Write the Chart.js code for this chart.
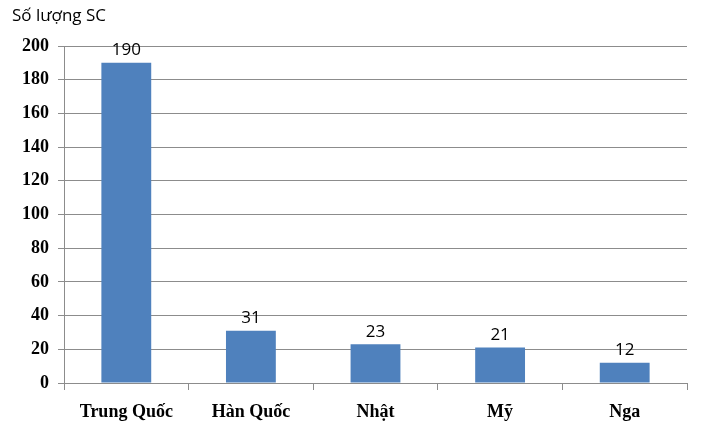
<!DOCTYPE html>
<html lang="vi">
<head>
<meta charset="UTF-8">
<title>Số lượng SC</title>
<script src="https://cdn.jsdelivr.net/npm/chart.js"></script>
<style>
  html, body { margin: 0; padding: 0; background: #fff; }
  #wrap { width: 705px; height: 430px; position: relative; }
</style>
</head>
<body>
<div id="wrap"><canvas id="chart"></canvas></div>
<script>
const categories = ['Trung Quốc', 'Hàn Quốc', 'Nhật', 'Mỹ', 'Nga'];
const counts = [190, 31, 23, 21, 12];
const yTicks = [0, 20, 40, 60, 80, 100, 120, 140, 160, 180, 200];

const gridColor = '#8c8c8c';
const barColor = '#4f81bd';

// value labels above each bar + axis title in the corner
const labelsPlugin = {
  id: 'labels',
  afterDatasetsDraw(chart) {
    const ctx = chart.ctx;
    const meta = chart.getDatasetMeta(0);
    ctx.save();
    ctx.fillStyle = '#000';
    ctx.font = '17px "Open Sans", "DejaVu Sans", sans-serif';
    ctx.textAlign = 'center';
    ctx.textBaseline = 'bottom';
    meta.data.forEach((bar, i) => {
      ctx.fillText(String(counts[i]), bar.x, bar.y - 4);
    });
    ctx.font = '17px "Open Sans", "DejaVu Sans", sans-serif';
    ctx.textAlign = 'left';
    ctx.textBaseline = 'middle';
    ctx.fillText('Số lượng SC', 12, 16);
    ctx.restore();
  }
};

function initializeChart() {
  const ctx = document.getElementById('chart').getContext('2d');
  new Chart(ctx, {
    type: 'bar',
    data: {
      labels: categories,
      datasets: [{
        data: counts,
        backgroundColor: barColor,
        borderWidth: 0,
        categoryPercentage: 1,
        barPercentage: 0.4
      }]
    },
    options: {
      responsive: true,
      maintainAspectRatio: false,
      animation: false,
      layout: { padding: { top: 46, right: 18, left: 0, bottom: 0 } },
      plugins: { legend: { display: false }, tooltip: { enabled: false } },
      scales: {
        x: {
          afterFit(scale) { scale.height = 47; },
          grid: {
            offset: true,
            drawOnChartArea: false,
            drawTicks: true,
            tickLength: 7,
            color: gridColor
          },
          border: { color: gridColor, width: 1 },
          ticks: {
            color: '#000',
            padding: 12,
            font: { family: '"Liberation Serif", "Times New Roman", serif', size: 18, weight: 'bold' }
          }
        },
        y: {
          min: 0,
          max: 200,
          afterFit(scale) { scale.width = 64; },
          afterBuildTicks(scale) { scale.ticks = yTicks.map(v => ({ value: v })); },
          grid: { color: gridColor, tickLength: 6, drawTicks: true },
          border: { color: gridColor, width: 1 },
          ticks: {
            color: '#000',
            padding: 9,
            font: { family: '"Liberation Serif", "Times New Roman", serif', size: 18, weight: 'bold' }
          }
        }
      }
    },
    plugins: [labelsPlugin]
  });
}
initializeChart();
</script>
</body>
</html>
